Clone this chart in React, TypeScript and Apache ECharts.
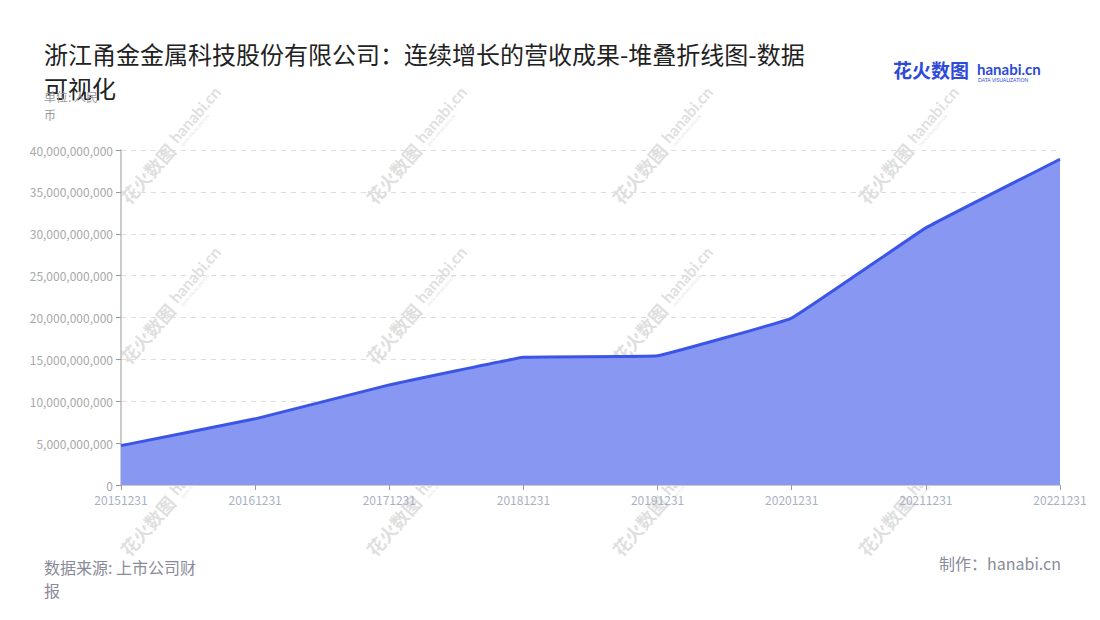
import React, { useEffect, useRef } from 'react';
import * as echarts from 'echarts';

const titleText = '浙江甬金金属科技股份有限公司：连续增长的营收成果-堆叠折线图-数据可视化';
const unitText = '单位: 人民币';
const sourceText = '数据来源: 上市公司财报';
const makerText = '制作：hanabi.cn';

// 报告期
const periods = ['20151231', '20161231', '20171231', '20181231', '20191231', '20201231', '20211231', '20221231'];
// 营业收入（元）
const revenue = [4700000000, 7900000000, 11950000000, 15250000000, 15430000000, 19930000000, 30700000000, 38900000000];

// 水印位置
const markCols = [172, 418, 664, 910];
const markRows = [145, 305, 497];

const FONT = '"Noto Sans CJK SC", "Noto Sans", sans-serif';

function watermark(cx: number, cy: number) {
  const c = '#c4c4c4';
  return {
    type: 'group',
    x: cx,
    y: cy,
    rotation: Math.PI / 4 + 0.07,
    z: 100,
    silent: true,
    children: [
      {
        type: 'text',
        x: -74,
        y: 0,
        style: { text: '花火数图', fontSize: 18, fontWeight: 'bold', fill: c, opacity: 0.55, verticalAlign: 'middle', fontFamily: FONT }
      },
      {
        type: 'text',
        x: 4,
        y: -3,
        style: { text: 'hanabi.cn', fontSize: 16, fontWeight: 'bold', fill: c, opacity: 0.55, verticalAlign: 'middle', fontFamily: 'Lato, sans-serif' }
      },
      {
        type: 'text',
        x: 6,
        y: 8,
        style: { text: 'DATA VISUALIZATION', fontSize: 4, fill: c, opacity: 0.55, verticalAlign: 'middle', fontFamily: 'Lato, sans-serif' }
      }
    ]
  };
}

const App: React.FC = () => {
  const chartRef = useRef<HTMLDivElement>(null);

  useEffect(() => {
    if (!chartRef.current) return;
    const chart = echarts.init(chartRef.current, undefined, { renderer: 'svg' });

    const marks: any[] = [];
    markRows.forEach(y => markCols.forEach(x => marks.push(watermark(x, y))));

    const option = {
      animation: false,
      backgroundColor: '#fff',
      textStyle: { fontFamily: FONT },
      grid: {
        left: 121,
        right: 40,
        top: 150,
        bottom: 135
      },
      xAxis: {
        type: 'category',
        data: periods,
        boundaryGap: false,
        axisLine: { lineStyle: { color: '#ccc' } },
        axisTick: { show: true, alignWithLabel: true, lineStyle: { color: '#999' } },
        axisLabel: { color: '#aab0c4', fontSize: 12, margin: 8, fontFamily: FONT },
        splitLine: { show: false }
      },
      yAxis: {
        type: 'value',
        min: 0,
        max: 40000000000,
        interval: 5000000000,
        axisLine: { show: true, lineStyle: { color: '#ccc', width: 2 } },
        axisTick: { show: true, length: 5, lineStyle: { color: '#999' } },
        axisLabel: {
          color: '#a8a8a8',
          fontSize: 12,
          margin: 8,
          fontFamily: FONT,
          formatter: (v: number) => v.toLocaleString('en-US')
        },
        splitLine: { show: true, lineStyle: { color: '#ddd', type: [5, 5] } }
      },
      series: [
        {
          name: '营业收入',
          type: 'line',
          data: revenue,
          smooth: 0.06,
          symbol: 'none',
          lineStyle: { color: '#3b55e6', width: 3 },
          itemStyle: { color: '#3b55e6' },
          areaStyle: { color: '#8797f2', opacity: 1 }
        }
      ],
      graphic: [
        {
          type: 'text',
          left: 44,
          top: 36,
          style: {
            text: titleText,
            fontSize: 24,
            fill: '#222',
            width: 780,
            overflow: 'break',
            lineHeight: 34,
            fontFamily: FONT
          }
        },
        {
          type: 'text',
          left: 44,
          top: 87,
          style: {
            text: unitText,
            fontSize: 12,
            fill: '#999',
            width: 70,
            overflow: 'break',
            lineHeight: 18,
            fontFamily: FONT
          }
        },
        {
          type: 'text',
          left: 44,
          top: 555,
          style: {
            text: sourceText,
            fontSize: 16,
            fill: '#8a8a99',
            width: 156,
            overflow: 'break',
            lineHeight: 23,
            fontFamily: FONT
          }
        },
        {
          type: 'text',
          right: 39,
          top: 555,
          style: { text: makerText, fontSize: 16, fill: '#8a8a99', fontFamily: FONT }
        },
        {
          type: 'text',
          left: 893,
          top: 60,
          style: { text: '花火数图', fontSize: 19, fontWeight: 'bold', fill: '#2d4ad8', fontFamily: FONT }
        },
        {
          type: 'text',
          left: 977,
          top: 61,
          style: { text: 'hanabi.cn', fontSize: 15, fontWeight: 'bold', fill: '#2d4ad8', fontFamily: 'Lato, sans-serif' }
        },
        {
          type: 'text',
          left: 978,
          top: 77,
          style: { text: 'DATA VISUALIZATION', fontSize: 5, fill: '#2d4ad8', fontFamily: 'Lato, sans-serif' }
        },
        ...marks
      ]
    };

    chart.setOption(option);

    return () => {
      chart.dispose();
    };
  }, []);

  return <div ref={chartRef} style={{ width: 1100, height: 620, margin: -8 }} />;
};

export default App;
